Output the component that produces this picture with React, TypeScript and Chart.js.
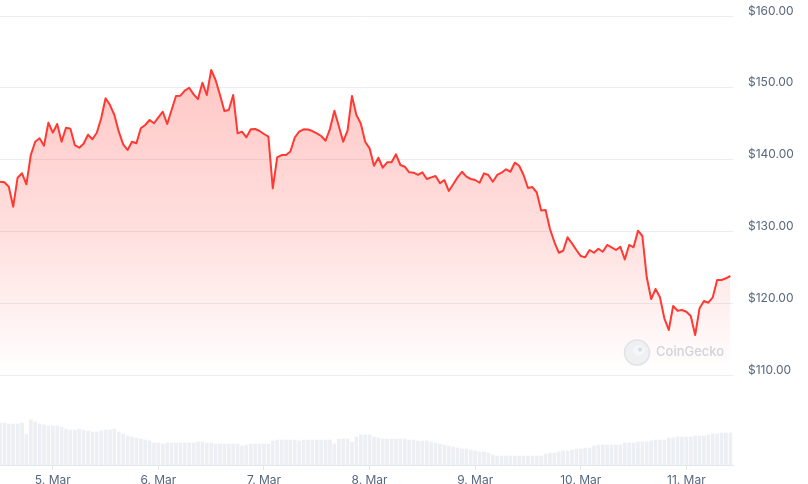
import { useEffect, useRef } from "react";
import { Chart, registerables } from "chart.js";

Chart.register(...registerables);

// X-axis day labels and their positions (hours since first sample, 4 Mar 12:00)
const dayLabels = ["5. Mar", "6. Mar", "7. Mar", "8. Mar", "9. Mar", "10. Mar", "11. Mar"];
const dayTickHours = [12, 36, 60, 84, 108, 132, 156];

// Price axis tick values (USD)
const priceTicks = [110, 120, 130, 140, 150, 160];

// Hourly price (USD)
const prices = [
  136.92, 136.84, 136.23, 133.44, 137.48, 138.09, 136.56, 140.64, 142.49, 142.97,
  141.94, 145.14, 143.75, 144.96, 142.49, 144.44, 144.30, 142.03, 141.66, 142.21,
  143.47, 142.83, 143.75, 145.75, 148.54, 147.60, 146.21, 143.89, 142.13, 141.34,
  142.49, 142.27, 144.36, 144.82, 145.52, 145.06, 145.89, 146.67, 144.96, 146.91,
  148.86, 148.90, 149.60, 150.01, 149.09, 148.44, 150.71, 149.00, 152.48, 151.09,
  149.00, 146.77, 146.91, 149.00, 143.66, 143.89, 143.11, 144.22, 144.26, 143.98,
  143.57, 143.19, 136.00, 140.32, 140.64, 140.64, 141.13, 143.08, 143.89, 144.22,
  144.19, 143.98, 143.66, 143.29, 142.63, 144.29, 146.81, 144.68, 142.49, 144.08,
  148.86, 146.21, 145.03, 142.49, 141.57, 139.15, 140.26, 138.87, 139.62, 139.62,
  140.74, 139.25, 139.01, 138.23, 138.18, 137.86, 138.23, 137.30, 137.53, 137.72,
  136.70, 137.16, 135.63, 136.56, 137.53, 138.31, 137.62, 137.30, 137.16, 136.78,
  138.09, 137.86, 136.92, 137.86, 138.18, 138.65, 138.31, 139.57, 139.15, 137.86,
  136.04, 136.18, 135.42, 132.91, 132.98, 130.33, 128.52, 127.03, 127.31, 129.18,
  128.34, 127.41, 126.57, 126.39, 127.41, 127.03, 127.59, 127.17, 128.11, 127.79,
  127.41, 127.87, 126.11, 128.11, 127.79, 130.10, 129.36, 123.61, 120.58, 121.98,
  120.82, 117.90, 116.27, 119.61, 118.96, 119.05, 118.82, 118.22, 115.57, 119.29,
  120.31, 120.07, 120.82, 123.23, 123.23, 123.47, 123.79,
];

// Hourly 24h volume (billion USD)
const volumes = [
  4.2, 4.2, 4.1, 4.1, 4.1, 4.2, 3.1, 4.5, 4.3, 4.1,
  4.0, 3.9, 3.9, 3.9, 3.8, 3.6, 3.5, 3.5, 3.6, 3.5,
  3.4, 3.3, 3.3, 3.4, 3.5, 3.5, 3.6, 3.3, 3.1, 2.9,
  2.8, 2.7, 2.6, 2.5, 2.4, 2.2, 2.2, 2.1, 2.2, 2.2,
  2.2, 2.2, 2.2, 2.2, 2.2, 2.3, 2.3, 2.2, 2.2, 2.1,
  2.1, 2.1, 2.1, 2.1, 2.1, 1.9, 2.0, 2.1, 2.1, 2.1,
  2.1, 2.1, 2.4, 2.5, 2.5, 2.5, 2.5, 2.5, 2.4, 2.5,
  2.5, 2.5, 2.5, 2.5, 2.5, 2.5, 2.1, 2.6, 2.6, 2.6,
  2.3, 2.8, 3.0, 3.0, 3.0, 2.8, 2.7, 2.6, 2.6, 2.6,
  2.6, 2.6, 2.6, 2.5, 2.5, 2.4, 2.4, 2.4, 2.3, 2.2,
  2.1, 2.0, 1.9, 1.8, 1.7, 1.6, 1.6, 1.5, 1.4, 1.3,
  1.3, 1.2, 1.0, 0.9, 0.9, 0.9, 0.9, 0.9, 0.9, 0.9,
  0.9, 0.9, 0.9, 0.9, 1.1, 1.2, 1.2, 1.3, 1.4, 1.4,
  1.5, 1.6, 1.6, 1.7, 1.7, 1.9, 2.0, 2.0, 2.0, 2.0,
  2.0, 2.0, 2.2, 2.2, 2.2, 2.3, 2.3, 2.3, 2.4, 2.5,
  2.5, 2.5, 2.7, 2.7, 2.8, 2.8, 2.8, 2.8, 2.9, 2.9,
  2.9, 3.0, 3.1, 3.1, 3.2, 3.2, 3.2,
];

const AXIS_COLOR = "#58667e";
const FONT = "Inter";

const watermark = {
  id: "watermark",
  afterDatasetsDraw(chart: any) {
    const { ctx, chartArea, scales } = chart;
    const baseY = scales.y.getPixelForValue(110);
    const cx = chartArea.right - 96;
    const cy = baseY - 22.5;
    ctx.save();
    ctx.beginPath();
    ctx.arc(cx, cy, 12.5, 0, Math.PI * 2);
    ctx.fillStyle = "rgba(236,238,241,0.9)";
    ctx.fill();
    ctx.lineWidth = 1.5;
    ctx.strokeStyle = "rgba(222,225,229,0.9)";
    ctx.stroke();
    ctx.beginPath();
    ctx.ellipse(cx + 2, cy - 2, 6, 5, 0, 0, Math.PI * 2);
    ctx.fillStyle = "rgba(246,247,249,0.95)";
    ctx.fill();
    ctx.beginPath();
    ctx.arc(cx + 3, cy - 3, 2, 0, Math.PI * 2);
    ctx.fillStyle = "rgba(214,217,222,0.95)";
    ctx.fill();
    ctx.font = `500 13px ${FONT}`;
    ctx.fillStyle = "rgba(205,209,215,0.95)";
    ctx.textBaseline = "middle";
    ctx.textAlign = "left";
    ctx.fillText("CoinGecko", cx + 19, cy);
    ctx.restore();
  },
};

export default function App() {
  const ref = useRef<HTMLCanvasElement>(null);

  useEffect(() => {
    const canvas = ref.current;
    if (!canvas) return;
    const hours = prices.map((_, i) => i);

    const chart = new Chart(canvas, {
      type: "line",
      data: {
        datasets: [
          {
            type: "line",
            data: prices.map((p, i) => ({ x: hours[i], y: p })),
            borderColor: "#ff3a33",
            borderWidth: 2,
            pointRadius: 0,
            tension: 0,
            borderJoinStyle: "round",
            fill: { value: 110 },
            backgroundColor: (c: any) => {
              const ch = c.chart;
              const area = ch.chartArea;
              if (!area) return "rgba(255,58,51,0.2)";
              const bottom = ch.scales.y.getPixelForValue(110);
              const g = ch.ctx.createLinearGradient(0, area.top, 0, bottom);
              g.addColorStop(0, "rgba(255,58,51,0.32)");
              g.addColorStop(0.6, "rgba(255,58,51,0.16)");
              g.addColorStop(1, "rgba(255,58,51,0)");
              return g;
            },
            yAxisID: "y",
            order: 1,
          } as any,
          {
            type: "bar",
            data: volumes.map((v, i) => ({ x: hours[i], y: v })),
            backgroundColor: "#eceff3",
            barThickness: 3,
            yAxisID: "y1",
            order: 2,
          } as any,
        ],
      },
      options: {
        animation: false,
        responsive: true,
        maintainAspectRatio: false,
        layout: { padding: { top: 16, left: 0, right: 0, bottom: 0 } },
        plugins: {
          legend: { display: false },
          tooltip: { enabled: false },
        },
        scales: {
          x: {
            type: "linear",
            min: 0,
            max: 166.6,
            offset: false,
            afterBuildTicks: (s: any) => {
              s.ticks = dayTickHours.map((v) => ({ value: v }));
            },
            afterFit: (s: any) => {
              s.height = 19;
            },
            ticks: {
              autoSkip: false,
              maxRotation: 0,
              padding: 3,
              color: AXIS_COLOR,
              font: { family: FONT, size: 12 },
              callback: (_v: any, i: number) => dayLabels[i],
            },
            grid: {
              drawOnChartArea: false,
              drawTicks: true,
              tickLength: 5,
              color: "#e3e6ea",
              offset: false,
            },
            border: { display: true, color: "#e3e6ea" },
          },
          y: {
            position: "right",
            min: 97.47,
            max: 160,
            afterBuildTicks: (s: any) => {
              s.ticks = priceTicks.map((v) => ({ value: v }));
            },
            afterFit: (s: any) => {
              s.width = 75;
            },
            ticks: {
              padding: 0,
              labelOffset: -5,
              color: AXIS_COLOR,
              font: { family: FONT, size: 12 },
              callback: (v: any) => "$" + Number(v).toFixed(2),
            },
            grid: {
              color: "#eaedf1",
              drawTicks: true,
              tickLength: 15,
              tickColor: "rgba(0,0,0,0)",
            },
            border: { display: false },
          },
          y1: {
            display: false,
            min: 0,
            max: 44.9,
          },
        },
      } as any,
      plugins: [watermark],
    });

    return () => chart.destroy();
  }, []);

  return (
    <div style={{ position: "fixed", left: 0, top: 0, width: 808, height: 484, background: "#fff" }}>
      <canvas ref={ref} />
    </div>
  );
}
